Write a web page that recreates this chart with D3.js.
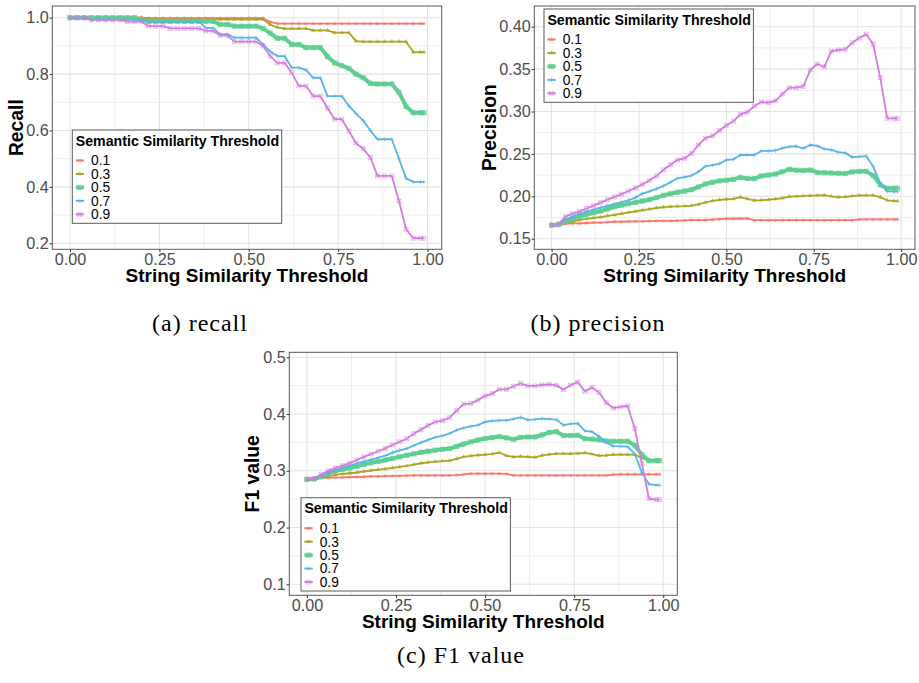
<!DOCTYPE html>
<html><head><meta charset="utf-8">
<script src="https://cdn.jsdelivr.net/npm/d3@7"></script>
<style>body{margin:0;background:#fff}svg{display:block}</style>
</head><body>
<svg id="c" width="919" height="683"></svg>
<script>
// ---------------- DATA ----------------
const stringThreshold = [0,0.02,0.04,0.06,0.08,0.10,0.12,0.14,0.16,0.18,0.20,0.22,0.24,0.26,0.28,0.30,0.32,0.34,0.36,0.38,0.40,0.42,0.44,0.46,0.48,0.50,0.52,0.54,0.56,0.58,0.60,0.62,0.64,0.66,0.68,0.70,0.72,0.74,0.76,0.78,0.80,0.82,0.84,0.86,0.88,0.90,0.92,0.94,0.96,0.98,0.99];
const semanticLevels = ["0.1","0.3","0.5","0.7","0.9"];

const recall01 = [1,1,1,1,1,1,1,1,1,1,1,0.998,0.998,0.998,0.998,0.998,0.998,0.998,0.998,0.998,0.998,0.998,0.998,0.998,0.998,0.998,0.998,0.998,0.985,0.979,0.979,0.979,0.979,0.979,0.979,0.979,0.979,0.979,0.979,0.979,0.979,0.979,0.979,0.979,0.979,0.979,0.979,0.979,0.979,0.979,0.979];
const recall03 = [1,1,1,1,1,1,1,1,1,1,1,0.994,0.994,0.994,0.994,0.994,0.994,0.994,0.994,0.994,0.994,0.994,0.994,0.994,0.994,0.994,0.994,0.994,0.975,0.966,0.961,0.961,0.961,0.961,0.955,0.955,0.955,0.947,0.947,0.947,0.917,0.915,0.915,0.915,0.915,0.915,0.915,0.915,0.878,0.878,0.878];
const recall05 = [1,1,1,1,1,1,1,1,1,1,0.993,0.987,0.987,0.987,0.987,0.987,0.987,0.987,0.987,0.987,0.987,0.976,0.976,0.970,0.970,0.970,0.970,0.962,0.945,0.927,0.927,0.905,0.905,0.894,0.894,0.894,0.862,0.840,0.830,0.820,0.800,0.787,0.767,0.765,0.765,0.765,0.735,0.685,0.663,0.663,0.663];
const recall07 = [1,1,1,0.993,0.993,0.993,0.993,0.993,0.993,0.993,0.993,0.986,0.986,0.986,0.986,0.986,0.986,0.986,0.986,0.964,0.964,0.941,0.941,0.929,0.929,0.929,0.929,0.905,0.880,0.864,0.864,0.823,0.823,0.815,0.787,0.787,0.722,0.722,0.722,0.687,0.660,0.635,0.600,0.569,0.569,0.569,0.500,0.430,0.418,0.418,0.418];
const recall09 = [1,1,1,0.992,0.992,0.992,0.992,0.992,0.986,0.986,0.986,0.970,0.970,0.970,0.962,0.962,0.962,0.962,0.962,0.953,0.953,0.937,0.937,0.915,0.915,0.915,0.915,0.900,0.864,0.840,0.840,0.805,0.758,0.758,0.722,0.722,0.680,0.640,0.640,0.598,0.555,0.535,0.505,0.439,0.439,0.439,0.350,0.250,0.218,0.218,0.218];

const precision01 = [0.1655,0.166,0.1675,0.168,0.168,0.1685,0.169,0.169,0.1695,0.170,0.170,0.1703,0.1705,0.1705,0.1708,0.171,0.171,0.171,0.1712,0.1715,0.172,0.172,0.172,0.1725,0.173,0.1735,0.1735,0.1738,0.1738,0.1718,0.1718,0.1718,0.1718,0.1718,0.1718,0.1718,0.1718,0.1718,0.1718,0.1718,0.1718,0.1718,0.1718,0.1718,0.1728,0.1728,0.1728,0.1728,0.1728,0.1728,0.1728];
const precision03 = [0.166,0.1665,0.1688,0.170,0.1722,0.1735,0.1745,0.1755,0.177,0.178,0.1795,0.181,0.1823,0.1837,0.185,0.1862,0.1872,0.1878,0.1882,0.1885,0.189,0.1905,0.1928,0.1945,0.1958,0.1965,0.197,0.199,0.197,0.1952,0.1955,0.196,0.1968,0.1978,0.1995,0.200,0.2004,0.2007,0.201,0.2013,0.200,0.199,0.1993,0.2003,0.201,0.201,0.201,0.199,0.1953,0.1946,0.1944];
const precision05 = [0.166,0.1665,0.1705,0.173,0.176,0.1785,0.1805,0.1826,0.185,0.1877,0.1895,0.1912,0.1928,0.1945,0.196,0.1985,0.2012,0.203,0.2048,0.2062,0.2078,0.211,0.2145,0.2165,0.2182,0.219,0.220,0.2223,0.221,0.2208,0.224,0.225,0.2262,0.229,0.2318,0.2308,0.2305,0.231,0.2282,0.2278,0.2275,0.2272,0.227,0.2288,0.2294,0.2294,0.2245,0.2135,0.2094,0.2094,0.2094];
const precision07 = [0.166,0.1672,0.1725,0.176,0.1795,0.182,0.1843,0.1866,0.1888,0.191,0.193,0.1953,0.1985,0.2032,0.2058,0.2088,0.2123,0.2165,0.2212,0.2225,0.2245,0.229,0.2355,0.2367,0.2385,0.2428,0.2436,0.2487,0.2487,0.2487,0.2535,0.2535,0.254,0.2568,0.2585,0.259,0.2565,0.2605,0.2595,0.256,0.2548,0.252,0.2512,0.2462,0.2467,0.2473,0.235,0.2155,0.2058,0.2055,0.2054];
const precision09 = [0.166,0.1675,0.176,0.1795,0.1822,0.1856,0.189,0.1925,0.196,0.1993,0.2025,0.2063,0.210,0.2141,0.2188,0.224,0.2312,0.2373,0.2428,0.2447,0.2505,0.2605,0.2685,0.2712,0.2775,0.2835,0.2885,0.2965,0.2992,0.3064,0.3112,0.3105,0.3125,0.3205,0.3281,0.3281,0.3295,0.349,0.356,0.3525,0.3713,0.3725,0.3733,0.381,0.3866,0.3912,0.3792,0.340,0.2919,0.2919,0.2919];

const f1_01 = [0.285,0.2855,0.287,0.2878,0.288,0.2884,0.2887,0.289,0.2895,0.290,0.2903,0.2907,0.291,0.2912,0.2915,0.2918,0.292,0.292,0.292,0.292,0.292,0.2925,0.2935,0.295,0.295,0.295,0.295,0.295,0.2945,0.292,0.292,0.292,0.292,0.292,0.292,0.292,0.292,0.292,0.292,0.292,0.292,0.292,0.292,0.2932,0.2938,0.2938,0.2938,0.2938,0.2938,0.2938,0.2938];
const f1_03 = [0.285,0.2855,0.2885,0.2905,0.2927,0.2945,0.2957,0.297,0.299,0.3005,0.302,0.3032,0.305,0.3068,0.3087,0.311,0.3133,0.3148,0.316,0.3172,0.3179,0.321,0.3247,0.3262,0.3276,0.3285,0.3297,0.332,0.3265,0.3246,0.3254,0.3245,0.3238,0.327,0.3288,0.3303,0.3303,0.3303,0.3308,0.3315,0.3295,0.3268,0.3272,0.3285,0.3285,0.3285,0.3285,0.3225,0.319,0.3185,0.3185];
const f1_05 = [0.285,0.2855,0.290,0.2955,0.2995,0.3025,0.305,0.308,0.3112,0.314,0.3165,0.319,0.3217,0.3245,0.3273,0.3298,0.3325,0.3345,0.3363,0.3378,0.339,0.343,0.3472,0.351,0.3542,0.357,0.3585,0.3602,0.358,0.3555,0.359,0.3596,0.3596,0.3633,0.3675,0.369,0.362,0.3622,0.3626,0.3565,0.3558,0.3548,0.3525,0.352,0.352,0.352,0.345,0.328,0.318,0.3179,0.3179];
const f1_07 = [0.285,0.286,0.2915,0.2955,0.3005,0.3055,0.309,0.313,0.3165,0.3195,0.323,0.3268,0.332,0.336,0.3392,0.3445,0.3495,0.3545,0.359,0.3615,0.366,0.3715,0.3757,0.3783,0.3805,0.386,0.388,0.389,0.389,0.3915,0.394,0.3898,0.3905,0.3918,0.391,0.3902,0.3805,0.3825,0.3835,0.3705,0.3688,0.3605,0.350,0.3435,0.343,0.3425,0.330,0.297,0.2765,0.2748,0.2745];
const f1_09 = [0.285,0.2865,0.2935,0.300,0.305,0.309,0.3135,0.319,0.3245,0.3295,0.3345,0.3395,0.3455,0.351,0.3565,0.3655,0.3725,0.380,0.386,0.3885,0.3935,0.406,0.4175,0.4185,0.4245,0.432,0.436,0.4436,0.4436,0.449,0.454,0.4495,0.4495,0.4512,0.4524,0.4507,0.443,0.451,0.4565,0.440,0.447,0.438,0.420,0.4105,0.4127,0.4142,0.375,0.313,0.251,0.2492,0.2492];

const xTicks = [0,0.25,0.5,0.75,1];
const xMinor = [0.125,0.375,0.625,0.875];
const recallTicks = [0.2,0.4,0.6,0.8,1.0];
const recallMinor = [0.3,0.5,0.7,0.9];
const precisionTicks = [0.15,0.20,0.25,0.30,0.35,0.40];
const precisionMinor = [0.175,0.225,0.275,0.325,0.375];
const f1Ticks = [0.1,0.2,0.3,0.4,0.5];
const f1Minor = [0.15,0.25,0.35,0.45];

// ---------------- STYLE ----------------
const colors = ["#F8766D","#A8A620","#5DCF90","#56B4E6","#D47CE2"];
const lineW = [1.8,1.8,4,1.8,1.8];
const SANS = "'Liberation Sans', Arial, sans-serif";
const svg = d3.select("#c");

function marker(g, k, x, y) {
  const c = colors[k];
  if (k === 0) {
    g.append("circle").attr("cx", x).attr("cy", y).attr("r", 1.7).attr("fill", c).attr("opacity", 0.6);
  } else if (k === 1) {
    g.append("path").attr("d", d3.symbol(d3.symbolTriangle, 9)()).attr("transform", `translate(${x},${y})`).attr("fill", c).attr("opacity", 0.7);
  } else if (k === 2) {
    g.append("rect").attr("x", x - 2.6).attr("y", y - 2.6).attr("width", 5.2).attr("height", 5.2).attr("fill", c).attr("opacity", 0.75);
  } else if (k === 3) {
    g.append("path").attr("d", `M${x-2.2},${y}H${x+2.2}M${x},${y-2.2}V${y+2.2}`).attr("stroke", c).attr("stroke-width", 0.9).attr("opacity", 0.6);
  } else {
    g.append("path").attr("d", `M${x-2},${y-2}H${x+2}V${y+2}H${x-2}ZM${x-2},${y-2}L${x+2},${y+2}M${x+2},${y-2}L${x-2},${y+2}`)
      .attr("stroke", c).attr("fill", "none").attr("stroke-width", 0.8).attr("opacity", 0.55);
  }
}

function drawPanel(cfg) {
  const {L, T, R, B} = cfg;
  const x = d3.scaleLinear().domain([-0.0495, 1.0395]).range([L, R]);
  const y = d3.scaleLinear().domain(cfg.yDomain).range([B, T]);
  const g = svg.append("g");
  g.append("rect").attr("x", L).attr("y", T).attr("width", R - L).attr("height", B - T).attr("fill", "#fff");
  const grid = g.append("g");
  xMinor.forEach(v => grid.append("line").attr("x1", x(v)).attr("x2", x(v)).attr("y1", T).attr("y2", B).attr("stroke", "#eeeeee").attr("stroke-width", 1));
  cfg.yMinor.forEach(v => grid.append("line").attr("y1", y(v)).attr("y2", y(v)).attr("x1", L).attr("x2", R).attr("stroke", "#eeeeee").attr("stroke-width", 1));
  xTicks.forEach(v => grid.append("line").attr("x1", x(v)).attr("x2", x(v)).attr("y1", T).attr("y2", B).attr("stroke", "#e3e3e3").attr("stroke-width", 1.1));
  cfg.yTicks.forEach(v => grid.append("line").attr("y1", y(v)).attr("y2", y(v)).attr("x1", L).attr("x2", R).attr("stroke", "#e3e3e3").attr("stroke-width", 1.1));
  const line = d3.line().x((d, i) => x(stringThreshold[i])).y(d => y(d));
  cfg.series.forEach((s, k) => {
    const sg = g.append("g");
    sg.append("path").attr("d", line(s)).attr("fill", "none").attr("stroke", colors[k]).attr("stroke-width", lineW[k]).attr("stroke-linejoin", "round");
    s.forEach((v, i) => marker(sg, k, x(stringThreshold[i]), y(v)));
  });
  g.append("rect").attr("x", L).attr("y", T).attr("width", R - L).attr("height", B - T).attr("fill", "none").attr("stroke", "#5a5a5a").attr("stroke-width", 1);
  const ax = g.append("g").attr("transform", `translate(0,${B})`)
    .call(d3.axisBottom(x).tickValues(xTicks).tickFormat(d3.format(".2f")).tickSize(2.7).tickPadding(1.2));
  const ay = g.append("g").attr("transform", `translate(${L},0)`)
    .call(d3.axisLeft(y).tickValues(cfg.yTicks).tickFormat(d3.format(cfg.yFmt)).tickSize(2.7).tickPadding(0.8));
  [ax, ay].forEach(a => {
    a.select(".domain").remove();
    a.selectAll(".tick line").attr("stroke", "#333");
    a.selectAll("text").attr("fill", "#4d4d4d").style("font-family", SANS).style("font-size", "16.2px");
  });
  g.append("text").attr("x", (L + R) / 2).attr("y", B + 32.6).attr("text-anchor", "middle")
    .style("font-family", SANS).style("font-size", "19px").style("font-weight", "bold").attr("fill", "#000")
    .text("String Similarity Threshold");
  g.append("text").attr("transform", `translate(${cfg.yTitleX},${(T + B) / 2}) rotate(-90)`).attr("text-anchor", "middle")
    .style("font-family", SANS).style("font-size", "19.3px").style("font-weight", "bold").attr("fill", "#000")
    .text(cfg.yTitle);
  const lx = cfg.legX, ly = cfg.legY;
  const lg = g.append("g");
  lg.append("rect").attr("x", lx).attr("y", ly).attr("width", 209.4).attr("height", 93.3).attr("fill", "#fff").attr("stroke", "#5a5a5a").attr("stroke-width", 1);
  lg.append("text").attr("x", lx + 3.4).attr("y", ly + 15.7).style("font-family", SANS).style("font-size", "14.2px").style("font-weight", "bold").attr("fill", "#000")
    .text("Semantic Similarity Threshold");
  semanticLevels.forEach((lab, k) => {
    const cy = ly + 30.5 + 13.45 * k;
    lg.append("line").attr("x1", lx + 3.4).attr("x2", lx + 11.7).attr("y1", cy).attr("y2", cy).attr("stroke", colors[k]).attr("stroke-width", k === 2 ? 3.5 : 2);
    marker(lg, k, lx + 7.55, cy);
    lg.append("text").attr("x", lx + 18.7).attr("y", cy + 4.9).style("font-family", SANS).style("font-size", "13.8px").attr("fill", "#000").text(lab);
  });
}

drawPanel({L: 52.3, T: 6, R: 441.7, B: 249.3, yDomain: [0.1787, 1.0415], yTicks: recallTicks, yMinor: recallMinor, yFmt: ".1f",
  series: [recall01, recall03, recall05, recall07, recall09], yTitle: "Recall", yTitleX: 23.3, legX: 72.3, legY: 130});
drawPanel({L: 534.3, T: 6, R: 915, B: 249.3, yDomain: [0.1375, 0.4244], yTicks: precisionTicks, yMinor: precisionMinor, yFmt: ".2f",
  series: [precision01, precision03, precision05, precision07, precision09], yTitle: "Precision", yTitleX: 496, legX: 544, legY: 9});
drawPanel({L: 289.3, T: 352.3, R: 677.3, B: 595.3, yDomain: [0.0806, 0.5088], yTicks: f1Ticks, yMinor: f1Minor, yFmt: ".1f",
  series: [f1_01, f1_03, f1_05, f1_07, f1_09], yTitle: "F1 value", yTitleX: 259, legX: 301, legY: 497.7});

const SERIF = "'Liberation Serif', 'Times New Roman', serif";
[["(a) recall", 200, 331], ["(b) precision", 598, 331], ["(c) F1 value", 461, 663]].forEach(([t, cx, by]) => {
  svg.append("text").attr("x", cx).attr("y", by).attr("text-anchor", "middle")
    .style("font-family", SERIF).style("font-size", "24px").style("letter-spacing", "1px").attr("fill", "#000").text(t);
});
</script>
</body></html>
